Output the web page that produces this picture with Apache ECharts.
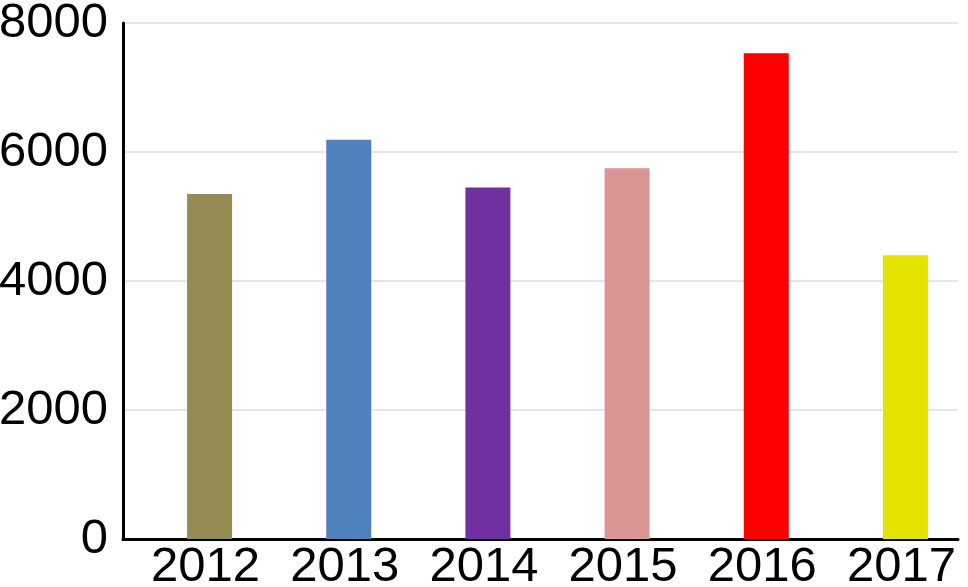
<!DOCTYPE html>
<html>
<head>
<meta charset="utf-8">
<script src="https://cdn.jsdelivr.net/npm/echarts@6/dist/echarts.min.js"></script>
<style>html,body{margin:0;padding:0;background:#fff}#c{width:968px;height:587px}</style>
</head>
<body>
<div id="c"></div>
<script>
const categories = ['2012', '2013', '2014', '2015', '2016', '2017'];
const values = [5350, 6190, 5450, 5750, 7530, 4400];
const barColors = ['#948A54', '#4F81BD', '#7030A0', '#D99694', '#FF0000', '#E4E400'];
const yTicks = [0, 2000, 4000, 6000, 8000];

const chart = echarts.init(document.getElementById('c'), null, {renderer: 'canvas'});
const font = '"Liberation Sans", Arial, sans-serif';
chart.setOption({
  animation: false,
  backgroundColor: '#fff',
  grid: {left: 123, right: 10, top: 23, bottom: 48, containLabel: false, outerBoundsMode: 'none'},
  xAxis: {
    type: 'category',
    data: categories,
    axisLine: {lineStyle: {color: '#000', width: 3}},
    axisTick: {show: false},
    axisLabel: {interval: 0, color: '#000', fontSize: 49, fontFamily: font, margin: 4, padding: [0, 0, 0, 26]},
    splitLine: {show: false}
  },
  yAxis: {
    type: 'value',
    min: yTicks[0],
    max: yTicks[yTicks.length - 1],
    interval: 2000,
    axisLine: {show: true, lineStyle: {color: '#000', width: 3}},
    axisTick: {show: false},
    axisLabel: {color: '#000', fontSize: 49, fontFamily: font, margin: 15, formatter: v => String(v)},
    splitLine: {show: true, lineStyle: {color: '#e6e6e6', width: 2}}
  },
  series: [
    {
      type: 'bar',
      name: 'spacer',
      barWidth: 34,
      barGap: '0%',
      data: categories.map(() => null),
      silent: true
    },
    {
      type: 'bar',
      name: 'value',
      barWidth: 45,
      barGap: '0%',
      data: values.map((v, i) => ({value: v, itemStyle: {color: barColors[i]}}))
    }
  ]
});
</script>
</body>
</html>
